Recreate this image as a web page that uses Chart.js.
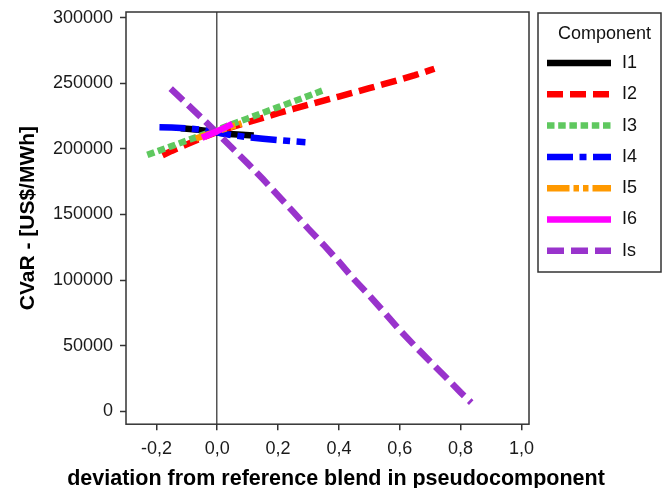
<!DOCTYPE html>
<html>
<head>
<meta charset="utf-8">
<script src="https://cdn.jsdelivr.net/npm/chart.js@4.4.1/dist/chart.umd.min.js"></script>
<style>
  html, body { margin: 0; padding: 0; background: #fff; }
  #wrap { width: 672px; height: 488px; }
</style>
</head>
<body>
<div id="wrap"><canvas id="cvar" width="672" height="488"></canvas></div>
<script>
"use strict";

// tick positions
const xTicks = [-0.2, 0, 0.2, 0.4, 0.6, 0.8, 1.0];
const yTicks = [0, 50000, 100000, 150000, 200000, 250000, 300000];

// deviation (x) and CVaR (y) per component
const xI1 = [-0.12, -0.08, -0.04, 0, 0.04, 0.08, 0.12];
const yI1 = [215800, 215000, 214000, 212500, 211500, 210800, 210200];

const xI2 = [-0.18, -0.15, -0.1, -0.05, 0, 0.05, 0.1, 0.15, 0.2, 0.25, 0.3, 0.35, 0.4, 0.45, 0.5, 0.55, 0.6, 0.65, 0.7, 0.714];
const yI2 = [195200, 198500, 203500, 208500, 213000, 216800, 220300, 223800, 227300, 230500, 233700, 236900, 240000, 243200, 246400, 249600, 252900, 256300, 260100, 261200];

const xI3 = [-0.23, -0.2, -0.15, -0.1, -0.05, 0, 0.05, 0.1, 0.15, 0.2, 0.25, 0.3, 0.345];
const yI3 = [195500, 198000, 202200, 206400, 210600, 214800, 219000, 223300, 227600, 231900, 236200, 240500, 244500];

const xI4 = [-0.19, -0.15, -0.1, -0.05, 0, 0.05, 0.1, 0.15, 0.2, 0.25, 0.29];
const yI4 = [216600, 216400, 215800, 214500, 212500, 210500, 209000, 207800, 206800, 205800, 205200];

const xI5 = [-0.07, -0.035, 0, 0.04, 0.08];
const yI5 = [208000, 210800, 213500, 216500, 219500];

const xI6 = [-0.05, -0.025, 0, 0.025, 0.05];
const yI6 = [208500, 211000, 213600, 216300, 219200];

const xIs = [-0.153, -0.1, -0.05, 0, 0.05, 0.1, 0.15, 0.2, 0.25, 0.3, 0.35, 0.4, 0.45, 0.5, 0.55, 0.6, 0.65, 0.7, 0.75, 0.8, 0.835];
const yIs = [246000, 234500, 223500, 212000, 200500, 189000, 177000, 164500, 152000, 139000, 126800, 114000, 100500, 88200, 75200, 61800, 49600, 37800, 26200, 14300, 6500];

const FONT = "'Liberation Sans', Arial, Helvetica, sans-serif";
Chart.defaults.font.family = FONT;

function series(label, xs, ys, color, dash, order) {
  return {
    label: label,
    data: xs.map((x, i) => ({ x: x, y: ys[i] })),
    borderColor: color,
    backgroundColor: color,
    borderDash: dash,
    borderWidth: 6.5,
    borderCapStyle: "butt",
    showLine: true,
    fill: false,
    pointRadius: 0,
    tension: 0,
    order: order,
  };
}

// box around the plotting area
const frame = {
  id: "frame",
  afterDraw(chart) {
    const { ctx, chartArea: a } = chart;
    ctx.save();
    ctx.strokeStyle = "#333";
    ctx.lineWidth = 1.5;
    ctx.strokeRect(a.left, a.top, a.right - a.left, a.bottom - a.top);
    ctx.restore();
  },
};

// boxed legend with title, drawn from the dataset styles
const legendBox = {
  id: "legendBox",
  afterDraw(chart) {
    const ctx = chart.ctx;
    const left = 538, top = 13, width = 123, height = 259;
    ctx.save();
    ctx.strokeStyle = "#333";
    ctx.lineWidth = 1.5;
    ctx.strokeRect(left, top, width, height);
    ctx.fillStyle = "#111";
    ctx.font = "18px " + FONT;
    ctx.textBaseline = "middle";
    ctx.textAlign = "center";
    ctx.fillText("Component", left + width / 2 + 5, 34);
    chart.data.datasets.forEach((ds, i) => {
      const y = 63 + i * 31.3;
      ctx.beginPath();
      ctx.setLineDash(ds.borderDash || []);
      ctx.strokeStyle = ds.borderColor;
      ctx.lineWidth = ds.borderWidth;
      ctx.lineCap = "butt";
      ctx.moveTo(547, y);
      ctx.lineTo(611, y);
      ctx.stroke();
      ctx.setLineDash([]);
      ctx.textAlign = "left";
      ctx.fillText(ds.label, 622, y);
    });
    ctx.restore();
  },
};

new Chart(document.getElementById("cvar"), {
  type: "scatter",
  data: {
    datasets: [
      series("I1", xI1, yI1, "#000000", [], 7),
      series("I2", xI2, yI2, "#ff0000", [16, 7], 6),
      series("I3", xI3, yI3, "#5fc85f", [7.5, 3.7], 5),
      series("I4", xI4, yI4, "#0000ff", [26, 6.5, 7, 6.5], 4),
      series("I5", xI5, yI5, "#ff9900", [22.5, 4, 5.5, 4, 5.5, 4], 3),
      series("I6", xI6, yI6, "#ff00ff", [], 1),
      series("Is", xIs, yIs, "#9933cc", [17, 7], 2),
    ],
  },
  options: {
    responsive: false,
    animation: false,
    layout: { padding: { left: 0, right: 0, top: 12, bottom: 0 } },
    plugins: {
      legend: { display: false },
      tooltip: { enabled: false },
      // x-axis caption spans wider than the plot, so it goes in the chart title slot
      title: {
        display: true,
        position: "bottom",
        text: "deviation from reference blend in pseudocomponent",
        color: "#000",
        font: { size: 21.5, weight: "bold" },
        padding: { top: 4, bottom: -4 },
      },
    },
    scales: {
      x: {
        type: "linear",
        min: -0.3,
        max: 1.025,
        afterBuildTicks: (s) => { s.ticks = xTicks.map((v) => ({ value: v })); },
        afterFit: (s) => { s.height = 38; s.paddingLeft = 0; s.paddingRight = 0; },
        border: { display: false },
        grid: {
          color: (c) => (c.tick && c.tick.value === 0 ? "#555" : "rgba(0,0,0,0)"),
          lineWidth: 1.5,
          tickLength: 6,
          tickColor: "#333",
          tickWidth: 1.5,
        },
        ticks: {
          callback: (v) => v.toFixed(1).replace(".", ","),
          autoSkip: false,
          maxRotation: 0,
          padding: 8,
          color: "#1a1a1a",
          font: { size: 18 },
        },
      },
      y: {
        type: "linear",
        min: -10000,
        max: 304500,
        afterBuildTicks: (s) => { s.ticks = yTicks.map((v) => ({ value: v })); },
        afterFit: (s) => { s.width = 126; s.paddingTop = 0; s.paddingBottom = 0; },
        border: { display: false },
        grid: {
          drawOnChartArea: false,
          tickLength: 6,
          tickColor: "#333",
          tickWidth: 1.5,
        },
        ticks: {
          callback: (v) => String(v),
          padding: 7,
          color: "#1a1a1a",
          font: { size: 18 },
        },
        title: {
          display: true,
          text: "CVaR - [US$/MWh]",
          color: "#000",
          font: { size: 21, weight: "bold" },
          padding: { top: 16, bottom: 0 },
        },
      },
      // empty right-hand axis that reserves the strip holding the legend box
      side: {
        type: "linear",
        position: "right",
        afterFit: (s) => { s.width = 143; s.paddingTop = 0; s.paddingBottom = 0; },
        border: { display: false },
        grid: { display: false },
        ticks: { display: false },
      },
    },
  },
  plugins: [frame, legendBox],
});
</script>
</body>
</html>
